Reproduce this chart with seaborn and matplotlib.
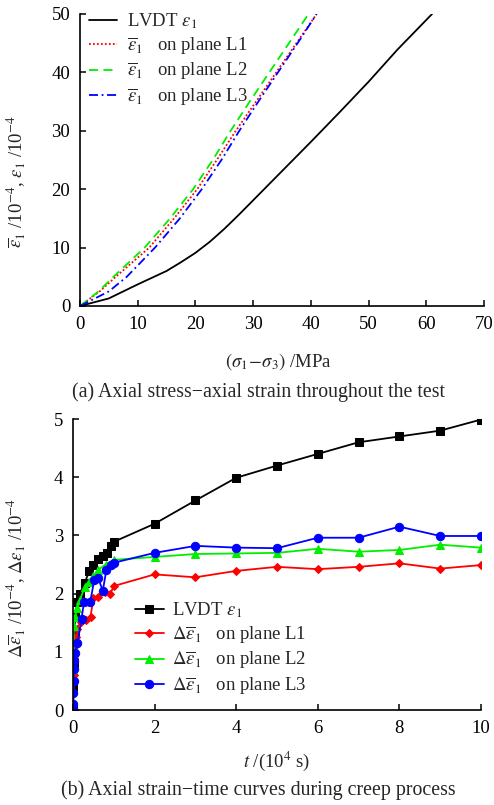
import matplotlib
matplotlib.use("Agg")
import matplotlib.pyplot as plt
import seaborn as sns

# ---------------- data: panel (a) ----------------
lvdt_stress = [0, 5, 10, 15, 17.5, 20, 22.5, 25, 27.5, 30, 35, 40, 45, 50, 55, 61]
lvdt_strain = [0, 1.3, 3.7, 6.0, 7.5, 9.1, 11.0, 13.2, 15.6, 18.1, 23.1, 28.1, 33.2, 38.4, 43.9, 50.0]

plane_strain = [0, 2.5, 5, 10, 15, 20, 25, 30, 35, 40, 45, 50]
l1_stress = [0, 3.4, 6.2, 12.0, 16.3, 20.3, 23.7, 27.0, 30.5, 34.0, 37.5, 41.0]
l2_stress = [0, 3.2, 5.8, 11.2, 15.6, 19.6, 23.0, 26.1, 29.4, 32.8, 36.2, 39.6]
l3_stress = [0, 5.0, 8.1, 13.0, 17.3, 21.1, 24.5, 27.6, 30.9, 34.3, 37.7, 41.0]

# ---------------- data: panel (b) ----------------
lv_t = [0, 0.01, 0.02, 0.04, 0.06, 0.1, 0.17, 0.29, 0.4, 0.5, 0.62, 0.73, 0.83, 0.93, 1.0,
        2, 3, 4, 5, 6, 7, 8, 9, 10]
lv_e = [0, 0.4, 0.8, 1.3, 1.6, 1.85, 2.0, 2.19, 2.39, 2.49, 2.59, 2.65, 2.70, 2.81, 2.89,
        3.20, 3.60, 3.99, 4.20, 4.40, 4.60, 4.70, 4.80, 4.99]

l1_t = [0, 0.01, 0.02, 0.03, 0.05, 0.08, 0.1, 0.19, 0.33, 0.43, 0.5, 0.62, 0.78, 0.91, 1.0,
        2, 3, 4, 5, 6, 7, 8, 9, 10]
l1_e = [0, 0.3, 0.6, 0.9, 1.1, 1.25, 1.4, 1.52, 1.55, 1.6, 1.93, 1.95, 2.02, 1.99, 2.13,
        2.33, 2.28, 2.39, 2.46, 2.42, 2.46, 2.52, 2.43, 2.49]

l2_t = [0, 0.01, 0.02, 0.05, 0.1, 0.17, 0.29, 0.38, 0.5, 0.62, 0.8, 1.0,
        2, 3, 4, 5, 6, 7, 8, 9, 10]
l2_e = [0, 0.7, 1.45, 1.6, 1.75, 1.89, 2.12, 2.2, 2.3, 2.41, 2.5, 2.58,
        2.63, 2.68, 2.69, 2.70, 2.77, 2.72, 2.75, 2.84, 2.79]

l3_t = [0, 0.005, 0.01, 0.015, 0.02, 0.03, 0.05, 0.11, 0.21, 0.27, 0.42, 0.52, 0.62, 0.73,
        0.82, 0.93, 1.0, 2, 3, 4, 5, 6, 7, 8, 9, 10]
l3_e = [0, 0.1, 0.3, 0.5, 0.7, 0.85, 0.98, 1.15, 1.57, 1.86, 1.85, 2.23, 2.26, 2.05,
        2.41, 2.49, 2.53, 2.70, 2.82, 2.79, 2.78, 2.96, 2.96, 3.15, 2.99, 2.99]

sns.set_style("ticks")
plt.rcParams["font.family"] = ["Liberation Serif", "DejaVu Serif"]
plt.rcParams["mathtext.fontset"] = "stix"
FS = 13.5
CAP = 14.3

fig = plt.figure(figsize=(4.94, 8.05), dpi=100)
W, H = 494, 805
ax1 = fig.add_axes([80 / W, 1 - 306 / H, 404 / W, 292 / H])
ax2 = fig.add_axes([73 / W, 1 - 710 / H, 408 / W, 291 / H])

# ---- panel (a)
sns.lineplot(x=lvdt_stress, y=lvdt_strain, ax=ax1, color="black", lw=1.3,
             label=r"LVDT $\varepsilon_1$", estimator=None, sort=False)
sns.lineplot(x=l1_stress, y=plane_strain, ax=ax1, color="#ff0000", lw=1.3,
             linestyle=(0, (1, 1.2)), label=r"$\overline{\varepsilon}_1$   on plane L1",
             estimator=None, sort=False)
sns.lineplot(x=l2_stress, y=plane_strain, ax=ax1, color="#00ee00", lw=1.3,
             linestyle=(0, (5, 3)), label=r"$\overline{\varepsilon}_1$   on plane L2",
             estimator=None, sort=False)
sns.lineplot(x=l3_stress, y=plane_strain, ax=ax1, color="#0000ff", lw=1.3,
             linestyle=(0, (5, 2, 1, 2)), label=r"$\overline{\varepsilon}_1$   on plane L3",
             estimator=None, sort=False)
ax1.set_xlim(0, 70)
ax1.set_ylim(0, 50)
ax1.set_xticks(range(0, 71, 10))
ax1.set_yticks(range(0, 51, 10))
ax1.set_xlabel(r"$(\sigma_1\!-\!\sigma_3)$ /MPa", fontsize=FS)
ax1.set_ylabel(r"$\overline{\varepsilon}_1$ /10$^{-4}$, $\varepsilon_1$ /10$^{-4}$", fontsize=FS)
ax1.xaxis.set_label_coords(0.49, -0.155)
ax1.yaxis.set_label_coords(-0.129, 0.425)
ax1.legend(loc="upper left", bbox_to_anchor=(0.0, 1.04), frameon=False, fontsize=FS,
           handlelength=1.45, handletextpad=0.55, labelspacing=0.2, borderaxespad=0.1)

# ---- panel (b)
sns.lineplot(x=lv_t, y=lv_e, ax=ax2, color="black", lw=1.3, marker="s", ms=5.5,
             mec="black", label=r"LVDT $\varepsilon_1$", estimator=None, sort=False)
sns.lineplot(x=l1_t, y=l1_e, ax=ax2, color="#ff0000", lw=1.3, marker="D", ms=4.5,
             mec="#ff0000", label=r"$\Delta\overline{\varepsilon}_1$   on plane L1",
             estimator=None, sort=False)
sns.lineplot(x=l2_t, y=l2_e, ax=ax2, color="#00ee00", lw=1.3, marker="^", ms=6,
             mec="#00ee00", label=r"$\Delta\overline{\varepsilon}_1$   on plane L2",
             estimator=None, sort=False)
sns.lineplot(x=l3_t, y=l3_e, ax=ax2, color="#0000ff", lw=1.3, marker="o", ms=6,
             mec="#0000ff", label=r"$\Delta\overline{\varepsilon}_1$   on plane L3",
             estimator=None, sort=False)
ax2.set_xlim(0, 10)
ax2.set_ylim(0, 5)
ax2.set_xticks(range(0, 11, 2))
ax2.set_yticks(range(0, 6))
ax2.set_xlabel(r"$t$ /(10$^4$ s)", fontsize=FS)
ax2.set_ylabel(r"$\Delta\overline{\varepsilon}_1$ /10$^{-4}$, $\Delta\varepsilon_1$ /10$^{-4}$",
               fontsize=FS)
ax2.xaxis.set_label_coords(0.5, -0.135)
ax2.yaxis.set_label_coords(-0.110, 0.454)
ax2.legend(loc="upper left", bbox_to_anchor=(0.13, 0.41), frameon=False, fontsize=FS,
           handlelength=1.5, handletextpad=0.45, labelspacing=0.22, borderaxespad=0.1)

for ax in (ax1, ax2):
    sns.despine(ax=ax)
    for s in ("left", "bottom"):
        ax.spines[s].set_linewidth(1.2)
        ax.spines[s].set_color("black")
    ax.tick_params(direction="in", length=4, width=1.1, labelsize=FS, pad=7, colors="black")

fig.text(258 / W, 1 - 392 / H, "(a) Axial stress\u2212axial strain throughout the test",
         ha="center", va="center", fontsize=CAP)
fig.text(258 / W, 1 - 790 / H, "(b) Axial strain\u2212time curves during creep process",
         ha="center", va="center", fontsize=CAP)

fig.savefig("out.png", dpi=100)
